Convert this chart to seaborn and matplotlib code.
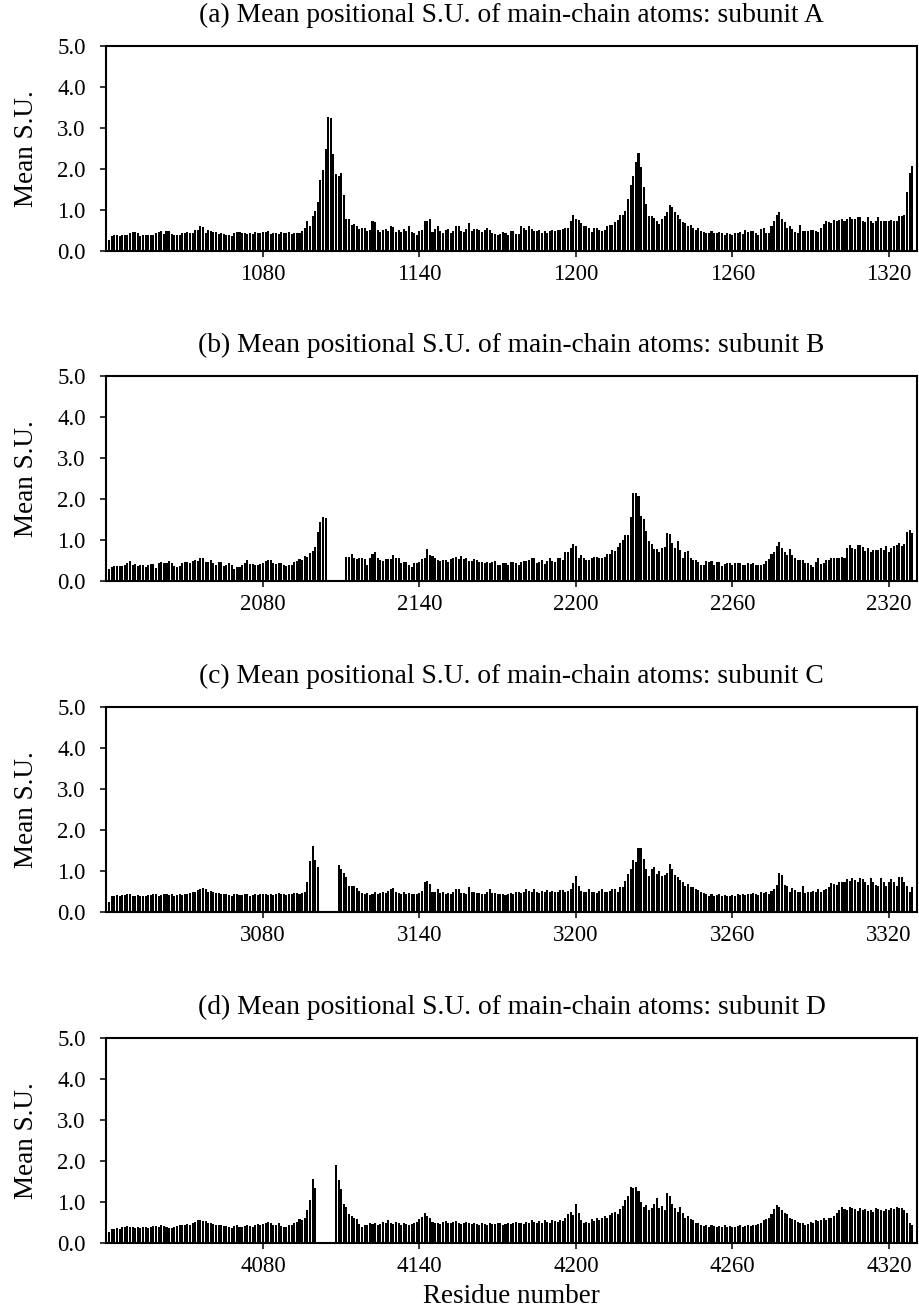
import numpy as np
import pandas as pd
import matplotlib
matplotlib.use("Agg")
import matplotlib.pyplot as plt
import seaborn as sns

nan = np.nan

# Residue numbering: every subunit covers local positions 21..329,
# offset by 1000 per subunit (A = 1000, B = 2000, C = 3000, D = 4000).
local_positions = list(range(21, 330))
subunit_names = ["A", "B", "C", "D"]
subunit_offsets = [1000, 2000, 3000, 4000]
panel_letters = ["a", "b", "c", "d"]
tick_locals = [80, 140, 200, 260, 320]
ytick_values = [0.0, 1.0, 2.0, 3.0, 4.0, 5.0]

# Mean positional standard uncertainty (Angstrom) of main-chain atoms
su_A = [
    .27, .37, .40, .40, .36, .38, .40, .40, .45, .47,
    .46, .44, .37, .38, .38, .40, .40, .40, .45, .46,
    .48, .41, .48, .48, .42, .40, .40, .40, .44, .43,
    .47, .45, .44, .51, .52, .60, .58, .45, .52, .48,
    .46, .47, .42, .44, .42, .40, .38, .36, .43, .47,
    .46, .44, .45, .42, .44, .41, .47, .45, .45, .47,
    .47, .48, .41, .43, .44, .42, .47, .45, .45, .46,
    .42, .44, .45, .43, .50, .55, .72, .62, .86, .97,
    1.19, 1.74, 1.98, 2.50, 3.27, 3.25, 2.36, 1.88, 1.82, 1.90,
    1.36, .78, .78, .63, .66, .60, .54, .55, .56, .49,
    .52, .72, .70, .52, .47, .51, .53, .49, .60, .58,
    .46, .51, .47, .54, .50, .60, .47, .44, .40, .50,
    .52, .74, .73, .77, .47, .54, .60, .50, .45, .52,
    .54, .45, .50, .62, .62, .50, .47, .54, .69, .50,
    .54, .54, .51, .47, .51, .55, .51, .45, .41, .40,
    .41, .47, .45, .39, .50, .50, .41, .41, .60, .56,
    .51, .61, .54, .48, .50, .51, .43, .50, .45, .48,
    .52, .50, .51, .51, .54, .57, .57, .73, .88, .78,
    .75, .68, .61, .60, .55, .47, .57, .55, .51, .50,
    .52, .61, .64, .64, .70, .75, .89, .88, .98, 1.27,
    1.61, 1.82, 2.17, 2.38, 2.05, 1.56, 1.15, .86, .86, .80,
    .72, .66, .79, .85, .96, 1.12, 1.07, .94, .87, .79,
    .70, .69, .60, .64, .57, .52, .55, .50, .47, .43,
    .45, .50, .44, .43, .47, .43, .38, .45, .41, .38,
    .44, .45, .47, .42, .51, .47, .48, .48, .45, .40,
    .54, .57, .45, .45, .62, .74, .89, .94, .79, .70,
    .56, .62, .53, .47, .43, .64, .50, .50, .50, .51,
    .51, .50, .47, .55, .66, .73, .70, .69, .76, .74,
    .76, .77, .73, .77, .83, .77, .78, .83, .83, .72,
    .70, .82, .74, .68, .72, .84, .74, .72, .74, .74,
    .76, .72, .74, .86, .86, .88, 1.45, 1.90, 2.07,
]

su_B = [
    .30, .34, .36, .36, .36, .37, .39, .45, .48, .40,
    .41, .37, .39, .39, .34, .39, .41, .41, .32, .44,
    .46, .45, .44, .48, .44, .36, .34, .37, .43, .46,
    .46, .44, .49, .52, .49, .57, .55, .47, .46, .51,
    .43, .39, .46, .46, .37, .40, .43, .38, .30, .33,
    .33, .39, .45, .51, .41, .41, .39, .39, .41, .44,
    .48, .52, .51, .43, .41, .44, .45, .38, .36, .39,
    .38, .46, .48, .54, .52, .60, .59, .68, .72, .83,
    1.20, 1.44, 1.55, 1.53,
    nan, nan, nan, nan, nan, nan, nan,
    .59, .59, .65, .57, .53, .57, .55, .53, .40,
    .57, .65, .70, .57, .51, .49, .53, .53, .53, .63,
    .57, .55, .44, .46, .46, .39, .33, .43, .43, .46,
    .53, .57, .77, .63, .61, .57, .51, .48, .51, .51,
    .46, .53, .57, .59, .53, .61, .53, .55, .48, .48,
    .53, .51, .46, .46, .45, .46, .44, .46, .48, .39,
    .39, .43, .43, .39, .46, .46, .43, .38, .46, .48,
    .48, .51, .55, .55, .44, .46, .51, .41, .48, .57,
    .48, .46, .55, .55, .51, .70, .70, .80, .90, .85,
    .55, .63, .55, .51, .51, .57, .59, .59, .57, .57,
    .59, .66, .66, .75, .73, .84, .92, 1.00, 1.11, 1.11,
    1.56, 2.15, 2.15, 2.08, 1.59, 1.51, 1.22, .98, .90, .77,
    .77, .71, .80, .82, 1.16, 1.15, .92, .80, .98, .75,
    .57, .71, .73, .57, .52, .51, .46, .40, .40, .48,
    .47, .48, .39, .46, .46, .36, .41, .43, .43, .39,
    .43, .43, .43, .40, .40, .45, .41, .43, .40, .39,
    .39, .41, .48, .53, .65, .71, .85, .95, .80, .70,
    .63, .77, .63, .57, .51, .51, .51, .43, .43, .40,
    .33, .46, .57, .41, .43, .51, .51, .57, .55, .55,
    .57, .59, .57, .80, .88, .80, .77, .88, .88, .84,
    .73, .81, .71, .75, .75, .75, .81, .75, .85, .71,
    .80, .85, .88, .93, .85, .90, 1.20, 1.25, 1.18,
]

su_C = [
    .25, .38, .40, .41, .40, .42, .41, .44, .45, .40,
    .38, .41, .40, .38, .40, .41, .42, .43, .44, .40,
    .41, .43, .45, .42, .44, .40, .41, .43, .41, .45,
    .44, .46, .48, .50, .53, .57, .59, .56, .50, .52,
    .48, .47, .46, .45, .43, .44, .42, .40, .43, .45,
    .42, .41, .44, .43, .40, .42, .44, .41, .43, .44,
    .45, .42, .43, .41, .44, .46, .44, .43, .42, .45,
    .44, .46, .47, .44, .46, .48, .74, 1.25, 1.61, 1.26,
    1.10,
    nan, nan, nan, nan, nan, nan, nan,
    1.15, 1.04,
    .94, .86, .64, .64, .64, .59, .52, .46, .44, .47,
    .42, .45, .48, .44, .46, .50, .47, .52, .55, .58,
    .50, .47, .45, .48, .44, .46, .43, .45, .44, .47,
    .52, .72, .76, .69, .48, .50, .55, .46, .50, .45,
    .47, .44, .48, .57, .57, .46, .47, .45, .60, .49,
    .50, .46, .47, .45, .44, .48, .55, .46, .47, .45,
    .43, .45, .42, .44, .47, .45, .48, .50, .46, .49,
    .57, .52, .49, .57, .50, .47, .51, .48, .53, .50,
    .52, .50, .49, .54, .53, .50, .52, .57, .71, .89,
    .64, .52, .49, .50, .55, .48, .50, .47, .52, .57,
    .50, .48, .52, .57, .57, .50, .62, .62, .76, .93,
    1.04, 1.26, 1.21, 1.55, 1.57, 1.30, 1.04, .89, 1.04, 1.10,
    .93, .99, .89, .91, .96, 1.18, 1.05, .91, .85, .78,
    .72, .64, .68, .60, .62, .55, .53, .48, .46, .44,
    .40, .43, .38, .41, .44, .40, .42, .39, .38, .41,
    .40, .43, .42, .44, .41, .45, .43, .47, .44, .42,
    .50, .46, .48, .45, .52, .55, .67, .96, .91, .66,
    .64, .50, .58, .54, .48, .50, .64, .47, .49, .50,
    .52, .50, .55, .50, .53, .56, .62, .71, .68, .67,
    .72, .72, .74, .81, .76, .83, .79, .74, .83, .81,
    .74, .67, .83, .72, .67, .64, .83, .72, .64, .74,
    .81, .74, .64, .86, .86, .72, .64, .50, .62,
]

su_D = [
    .28, .33, .35, .36, .34, .38, .40, .42, .40, .38,
    .36, .39, .37, .38, .40, .36, .39, .41, .42, .40,
    .43, .42, .40, .37, .36, .39, .41, .44, .43, .45,
    .46, .44, .48, .52, .55, .57, .54, .53, .50, .49,
    .47, .45, .44, .43, .41, .42, .38, .37, .41, .44,
    .40, .38, .42, .45, .41, .39, .44, .46, .43, .47,
    .50, .52, .49, .45, .44, .48, .42, .38, .40, .44,
    .45, .50, .52, .58, .55, .62, .80, 1.05, 1.56, 1.35,
    nan, nan, nan, nan, nan, nan, nan,
    1.90, 1.53, 1.31,
    .95, .87, .70, .66, .62, .58, .47, .40, .43, .45,
    .48, .46, .50, .44, .47, .52, .50, .55, .49, .47,
    .52, .48, .45, .50, .46, .43, .47, .49, .52, .58,
    .63, .72, .67, .60, .52, .48, .50, .47, .51, .53,
    .50, .48, .51, .54, .50, .47, .49, .52, .48, .46,
    .50, .47, .45, .48, .46, .44, .49, .47, .46, .50,
    .48, .45, .47, .50, .46, .49, .52, .48, .50, .47,
    .52, .49, .55, .51, .48, .53, .50, .56, .52, .49,
    .55, .53, .51, .57, .54, .62, .70, .75, .68, .95,
    .72, .55, .48, .52, .50, .58, .54, .60, .57, .62,
    .66, .60, .68, .72, .75, .70, .82, .90, 1.05, 1.15,
    1.37, 1.33, 1.37, 1.28, 1.00, .88, .92, .80, .85, .95,
    1.10, .85, .90, .80, 1.23, 1.15, .95, .85, .75, .88,
    .72, .62, .66, .58, .55, .50, .48, .45, .42, .44,
    .40, .43, .41, .38, .42, .40, .43, .39, .41, .40,
    .38, .41, .43, .40, .42, .44, .41, .45, .43, .46,
    .50, .55, .58, .62, .70, .82, .93, .88, .80, .72,
    .70, .62, .58, .55, .52, .48, .50, .45, .47, .52,
    .50, .55, .53, .57, .60, .56, .62, .60, .66, .72,
    .80, .88, .84, .80, .88, .85, .82, .78, .85, .80,
    .83, .78, .80, .76, .85, .82, .80, .78, .84, .80,
    .85, .82, .88, .86, .85, .80, .72, .50, .45,
]

su_series = [su_A, su_B, su_C, su_D]

sns.set_theme(style="ticks")
plt.rcParams["font.family"] = ["Liberation Serif", "DejaVu Serif"]

W, H = 919, 1310
fig = plt.figure(figsize=(W / 100, H / 100), dpi=100)

ax_left = 106 / W
ax_width = (917 - 106) / W
ax_height = 205 / H
zero_lines = [251, 581, 912, 1243]

for i, (name, off, letter, su) in enumerate(
        zip(subunit_names, subunit_offsets, panel_letters, su_series)):
    bottom = (H - zero_lines[i]) / H
    ax = fig.add_axes([ax_left, bottom, ax_width, ax_height])

    df = pd.DataFrame({
        "residue": [off + p for p in local_positions],
        "su": su,
    }).dropna()

    sns.barplot(data=df, x="residue", y="su", native_scale=True,
                color="black", saturation=1, width=0.78, linewidth=0,
                errorbar=None, ax=ax)

    ax.set_xlim(off + 19.8, off + 330.8)
    ax.set_ylim(0, 5.0)
    ax.set_xticks([off + t for t in tick_locals])
    ax.set_xticklabels([str(off + t) for t in tick_locals])
    ax.set_yticks(ytick_values)
    ax.set_yticklabels([f"{v:.1f}" for v in ytick_values])

    for side in ["left", "right", "top", "bottom"]:
        ax.spines[side].set_visible(True)
        ax.spines[side].set_linewidth(1.5)
        ax.spines[side].set_color("black")

    ax.tick_params(axis="both", which="major", direction="out",
                   length=4.5, width=1.1, color="black",
                   labelsize=16.5, labelcolor="black")
    ax.tick_params(axis="y", pad=10)
    ax.tick_params(axis="x", pad=5)

    ax.set_title(f"({letter}) Mean positional S.U. of main-chain atoms: subunit {name}",
                 fontsize=19.8, pad=17, color="black")
    ax.set_ylabel("Mean S.U.", fontsize=19.5, color="black")
    ax.yaxis.set_label_coords(-0.083, 0.5)
    if i == 3:
        ax.set_xlabel("Residue number", fontsize=19.5, color="black")
        ax.xaxis.set_label_coords(0.5, -0.2)
    else:
        ax.set_xlabel("")
    ax.grid(False)

fig.savefig("out.png", dpi=100, facecolor="white")
